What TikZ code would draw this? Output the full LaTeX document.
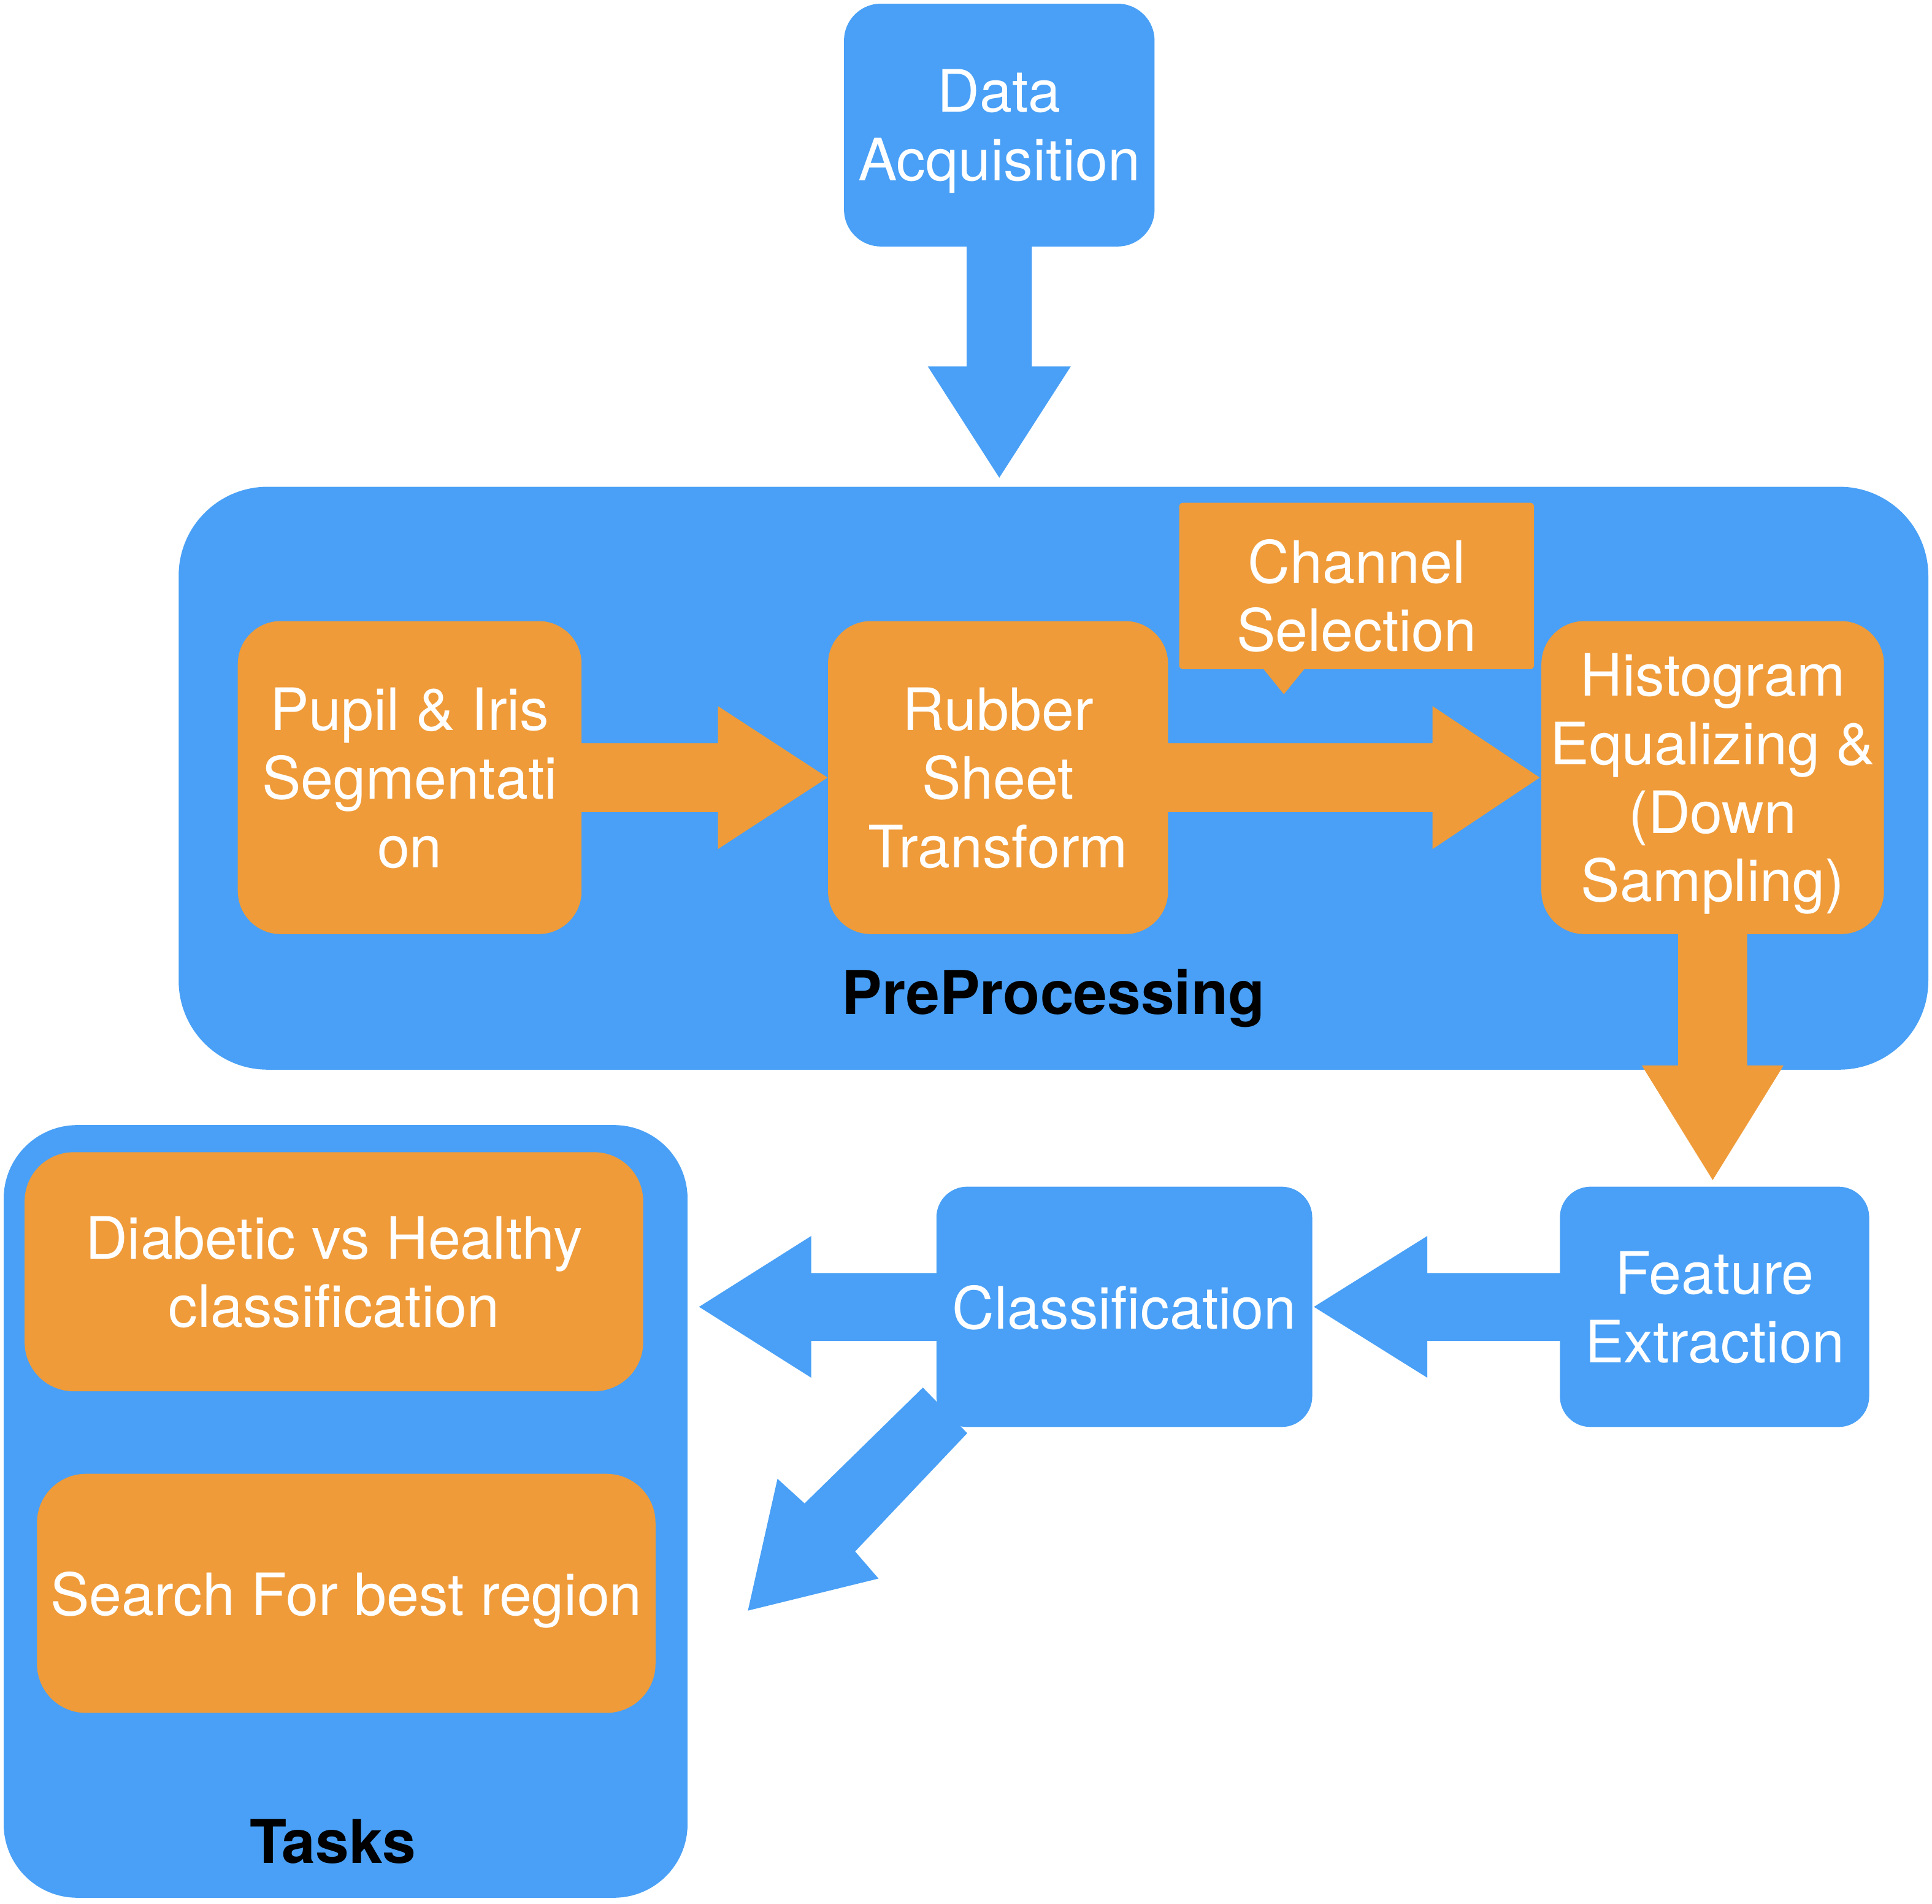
\documentclass[tikz,border=0pt]{standalone}
\usepackage{fontspec}
\setmainfont{TeX Gyre Heros}
\usetikzlibrary{calc}
\definecolor{bblue}{RGB}{73,160,246}
\definecolor{borange}{RGB}{239,155,57}
\newcommand\uu{0.0200893cm}
\begin{document}
\begin{tikzpicture}[x=0.0200893cm, y=-0.0200893cm,
  txt/.style={font=\fontsize{27.1}{31.8}\selectfont, text=white, align=center, text depth=0pt},
  bbox/.style={fill=bblue, inner sep=0pt, txt},
  obox/.style={fill=borange, inner sep=0pt, txt},
  lbl/.style={font=\fontsize{28}{32}\selectfont\bfseries, text=black, inner sep=0pt, text depth=0pt}]
\useasboundingbox (0,0) rectangle (1568,1545);

% group containers
\node[bbox, rounded corners=1.45cm, minimum width={1420*\uu}, minimum height={473*\uu}] (pre) at (855,631.5) {};
\node[lbl] (prelbl) at (855,805) {PreProcessing};
\node[bbox, rounded corners=1.2cm, minimum width={555*\uu}, minimum height={627*\uu}] (tasks) at (280.5,1226.5) {};
\node[lbl] (taskslbl) at (270,1494) {Tasks};

% blue nodes
\node[bbox, rounded corners=0.6cm, minimum width={252*\uu}, minimum height={197*\uu}] (da) at (811,101.5) {Data\\Acquisition};

% diagonal arrow (under classification box)
\coordinate (csw) at (760,1158);
\fill[bblue] ($(csw)+(-11,-32)$) -- ($(csw)+(25,5)$) -- ($(csw)+(-66,101)$) -- ($(csw)+(-47,123)$)
  -- ($(csw)+(-153,149)$) -- ($(csw)+(-129,42)$) -- ($(csw)+(-107,62)$) -- cycle;

\node[bbox, rounded corners=0.5cm, minimum width={251*\uu}, minimum height={195*\uu}] (feat) at (1391.5,1060.5) {Feature\\Extraction};
\node[bbox, rounded corners=0.5cm, minimum width={305*\uu}, minimum height={195*\uu}] (cls) at (912.5,1060.5) {Classification};

% orange nodes
\node[obox, rounded corners=0.7cm, minimum width={279*\uu}, minimum height={254*\uu}] (pupil) at (332.5,631) {Pupil \& Iris\\Segmentati\\on};
\node[obox, rounded corners=0.7cm, minimum width={276*\uu}, minimum height={254*\uu}] (rubber) at (810,631) {Rubber\\Sheet\\Transform};
\node[obox, rounded corners=0.7cm, minimum width={278*\uu}, minimum height={254*\uu}] (hist) at (1390,631) {Histogram\\Equalizing \&\\(Down\\Sampling)};
\node[obox, rounded corners=0.06cm, minimum width={288*\uu}, minimum height={135*\uu}] (chan) at (1101,475.5) {};
\fill[borange] ($(chan.south)+(-76,-1)$) -- ($(chan.south)+(-59,20)$) -- ($(chan.south)+(-42,-1)$) -- cycle;
\node[txt, inner sep=0pt] (chantxt) at (1101,483) {Channel\\Selection};
\node[obox, rounded corners=0.8cm, minimum width={502*\uu}, minimum height={194*\uu}] (diab) at (271,1032) {Diabetic vs Healthy\\classification};
\node[obox, rounded corners=0.8cm, minimum width={502*\uu}, minimum height={194*\uu}] (search) at (281,1293) {Search For best region};

% Data Acquisition -> PreProcessing
\fill[bblue] ($(da.south)+(-26.5,-1)$) -- ($(da.south)+(26.5,-1)$) -- ($(da.south)+(26.5,97)$) -- ($(da.south)+(58,97)$)
  -- ($(da.south |- pre.north)+(0,-7)$) -- ($(da.south)+(-58,97)$) -- ($(da.south)+(-26.5,97)$) -- cycle;

% Pupil -> Rubber
\fill[borange] ($(pupil.east)+(-1,-28)$) -- ($(rubber.west)+(-89,-28)$) -- ($(rubber.west)+(-89,-58)$) -- (rubber.west)
  -- ($(rubber.west)+(-89,58)$) -- ($(rubber.west)+(-89,28)$) -- ($(pupil.east)+(-1,28)$) -- cycle;

% Rubber -> Histogram
\fill[borange] ($(rubber.east)+(-1,-28)$) -- ($(hist.west)+(-88,-28)$) -- ($(hist.west)+(-88,-58)$) -- ($(hist.west)+(-1,0)$)
  -- ($(hist.west)+(-88,58)$) -- ($(hist.west)+(-88,28)$) -- ($(rubber.east)+(-1,28)$) -- cycle;

% Histogram -> Feature
\coordinate (htip) at ($(hist.south |- feat.north)+(0,-5)$);
\fill[borange] ($(hist.south)+(-28,-1)$) -- ($(hist.south)+(28,-1)$) -- ($(htip)+(28,-93)$) -- ($(htip)+(57.5,-93)$)
  -- (htip) -- ($(htip)+(-57.5,-93)$) -- ($(htip)+(-28,-93)$) -- cycle;

% Feature -> Classification
\coordinate (ftip) at ($(cls.east)+(1,0)$);
\fill[bblue] ($(feat.west)+(1,-27.5)$) -- ($(ftip)+(92,-27.5)$) -- ($(ftip)+(92,-57.5)$) -- (ftip)
  -- ($(ftip)+(92,57.5)$) -- ($(ftip)+(92,27.5)$) -- ($(feat.west)+(1,27.5)$) -- cycle;

% Classification -> Tasks
\coordinate (ctip) at ($(tasks.east |- cls.west)+(9,0)$);
\fill[bblue] ($(cls.west)+(1,-27.5)$) -- ($(ctip)+(91,-27.5)$) -- ($(ctip)+(91,-57.5)$) -- (ctip)
  -- ($(ctip)+(91,57.5)$) -- ($(ctip)+(91,27.5)$) -- ($(cls.west)+(1,27.5)$) -- cycle;
\end{tikzpicture}
\end{document}
